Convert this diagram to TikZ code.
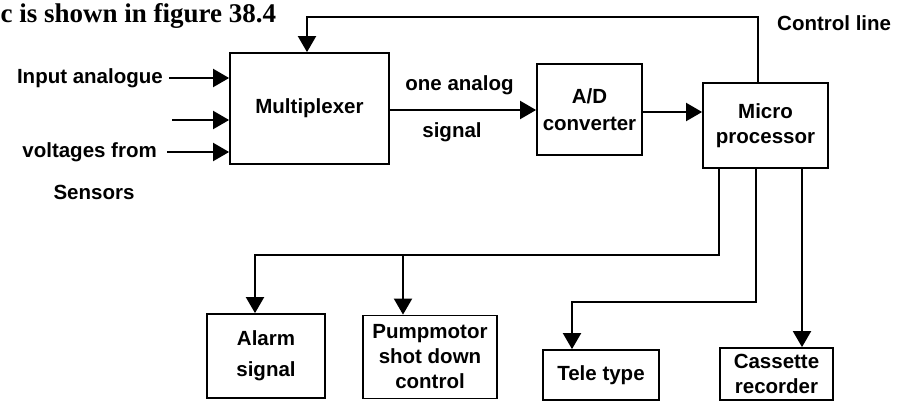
\documentclass[tikz,border=0pt]{standalone}
\usepackage{fontspec}
\setmainfont{Liberation Sans}
\newfontfamily\serifhead{Liberation Serif}
\usetikzlibrary{arrows.meta}
\tikzset{
  box/.style={draw, line width=1.8pt, inner sep=0pt, align=center, font=\lblfont},
  lbl/.style={inner sep=0pt, font=\lblfont},
  conn/.style={line width=2pt},
  arr/.style={conn, -{Triangle[length=16pt,width=18pt]}},
}
\newcommand\lblfont{\bfseries\fontsize{20.5}{25}\selectfont}
\begin{document}
\begin{tikzpicture}[x=1pt,y=-1pt]
\useasboundingbox (0,0) rectangle (899,402);
% heading
\node[inner sep=0pt, anchor=base west, font=\serifhead\bfseries\fontsize{27}{32}\selectfont] (head) at (0.5,22) {c is shown in figure 38.4};
% boxes
\node[box, minimum width=159pt, minimum height=111pt] (mux) at (309.5,108.5) {Multiplexer};
\node[box, minimum width=105pt, minimum height=91pt, font=\bfseries\fontsize{20.5}{33}\selectfont] (ad) at (589.5,109.5) {A/D\\[-6pt]converter};
\node[box, minimum width=125pt, minimum height=85pt] (micro) at (765.5,125.5) {Micro\\processor};
\node[box, minimum width=118pt, minimum height=84pt, font=\bfseries\fontsize{20.5}{31}\selectfont] (alarm) at (266,356) {Alarm\\signal};
\node[box, minimum width=134pt, minimum height=83pt] (pump) at (430,357) {Pumpmotor\\shot down\\control};
\node[box, minimum width=116pt, minimum height=50pt] (tele) at (601,375) {Tele type};
\node[box, minimum width=113pt, minimum height=52pt] (cass) at (776.5,374) {Cassette\\recorder};
% labels
\node[lbl, anchor=east] (tin) at (163,78) {Input analogue};
\node[lbl, anchor=east] (tvolt) at (157,152) {voltages from};
\node[lbl] (tsens) at (94,192) {Sensors};
\node[lbl] (tone) at (459.5,85) {one analog};
\node[lbl] (tsig) at (452,132) {signal};
\node[lbl, anchor=west] (tctrl) at (777,23) {Control line};
% coordinates
\coordinate (in1) at (169,78);
\coordinate (in2) at (172,120);
\coordinate (in3) at (167,152);
\coordinate (ctop) at (307,17);
\coordinate (bus1) at (255,255);
\coordinate (bus2) at (572,302);
% inputs
\draw[arr] (in1) -- (mux.west |- in1);
\draw[arr] (in2) -- (mux.west |- in2);
\draw[arr] (in3) -- (mux.west |- in3);
% main chain
\draw[arr] (mux.east |- 0,110) -- (ad.west |- 0,110);
\draw[arr] (ad.east |- 0,112) -- (micro.west |- 0,112);
% control line
\draw[arr] ([xshift=-7.5pt]micro.north) |- (ctop) -- (ctop |- mux.north);
% outputs
\draw[arr] ([xshift=-46.5pt]micro.south) |- (bus1) -- (bus1 |- alarm.north);
\draw[arr] (403,255) -- (403,255 |- pump.north);
\draw[arr] ([xshift=-9.5pt]micro.south) |- (bus2) -- (bus2 |- tele.north);
\draw[arr] ([xshift=36.5pt]micro.south) -- ([xshift=36.5pt]micro.south |- cass.north);
\end{tikzpicture}
\end{document}
